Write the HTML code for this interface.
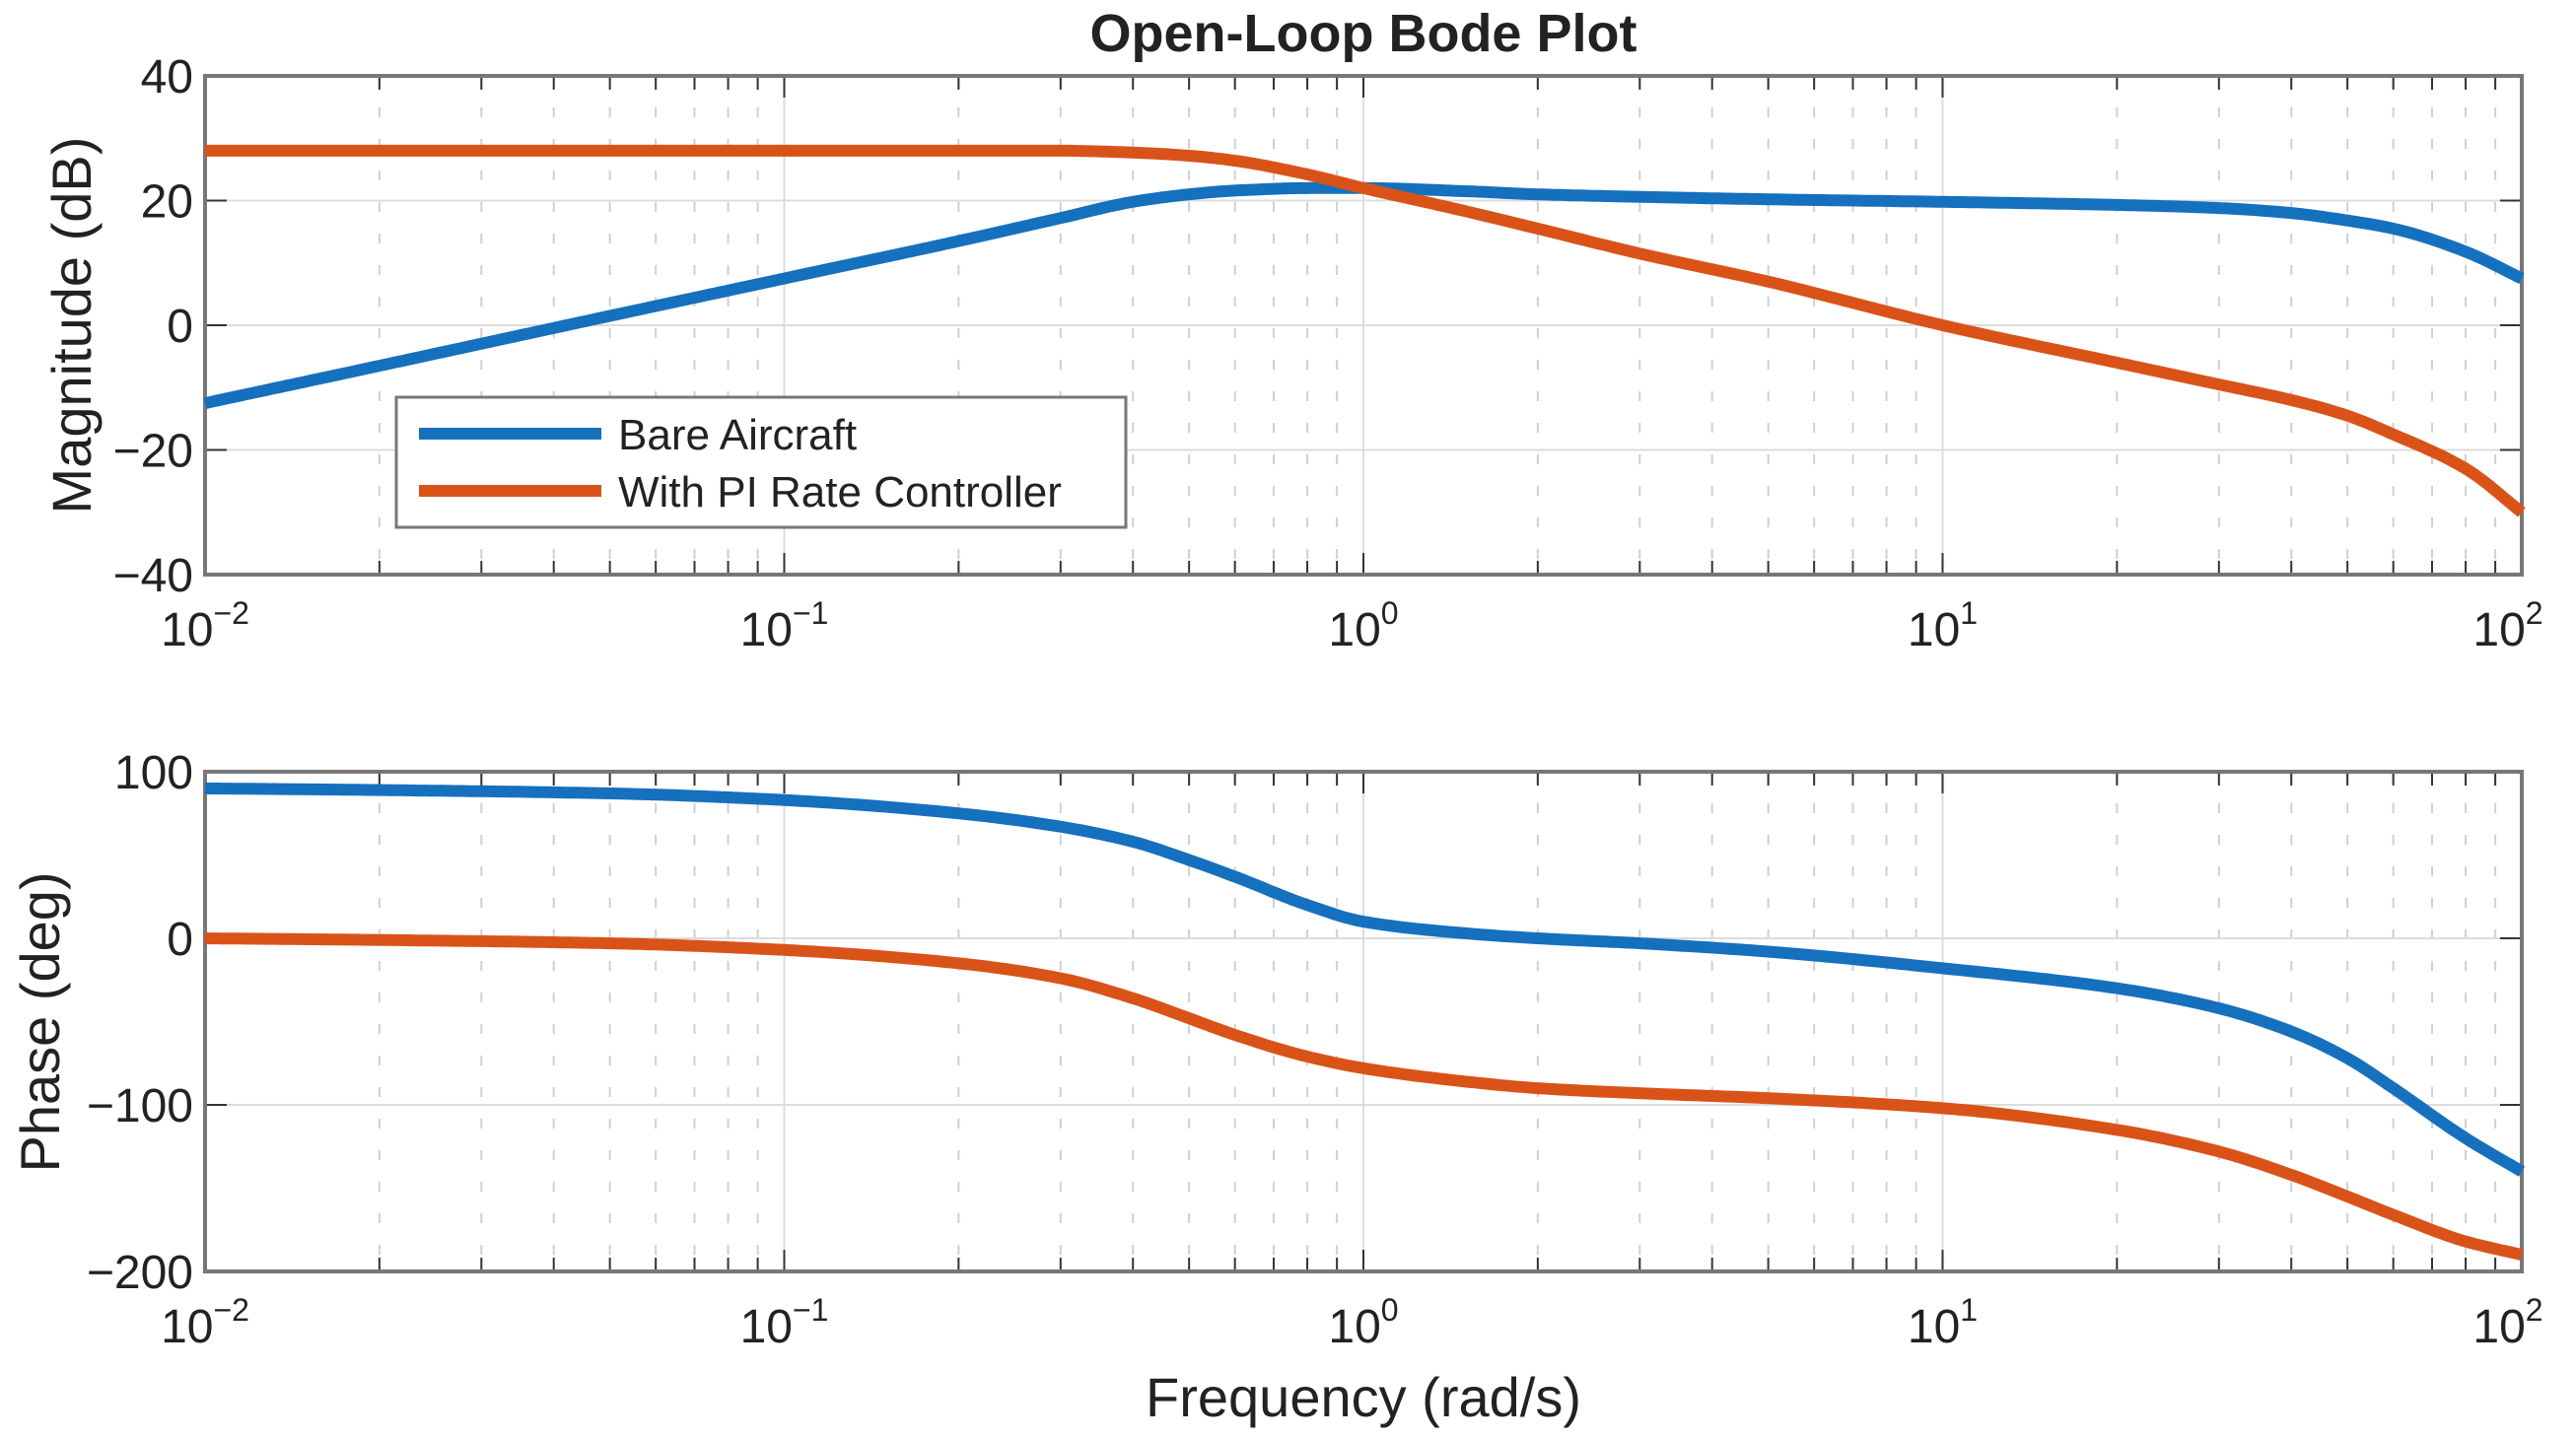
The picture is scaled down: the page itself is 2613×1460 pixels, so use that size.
<!DOCTYPE html>
<html><head><meta charset="utf-8"><style>
body{margin:0;background:#fff}
svg{display:block;font-family:"Liberation Sans",sans-serif}
</style></head><body>
<svg id="chart" width="2613" height="1460" viewBox="0 0 2613 1460">
<text x="1383" y="52" text-anchor="middle" font-size="54" font-weight="bold" fill="#222">Open-Loop Bode Plot</text>
<g id="mag"></g>
<g id="ph"></g>
<text transform="translate(92,330) rotate(-90)" text-anchor="middle" font-size="56" fill="#222">Magnitude (dB)</text>
<text transform="translate(60,1037) rotate(-90)" text-anchor="middle" font-size="56" fill="#222">Phase (deg)</text>
<text x="1383" y="1437" text-anchor="middle" font-size="56" fill="#222">Frequency (rad/s)</text>
<g id="legend">
<rect x="402" y="403" width="740" height="132" fill="#fff" stroke="#777" stroke-width="3"/>
<line x1="425" y1="440" x2="610" y2="440" stroke="#1570be" stroke-width="12"/>
<text x="627" y="456" font-size="44" fill="#222">Bare Aircraft</text>
<line x1="425" y1="498" x2="610" y2="498" stroke="#d95319" stroke-width="12"/>
<text x="627" y="514" font-size="44" fill="#222">With PI Rate Controller</text>
</g>
</svg>
<script>
const freqs=[0.01,0.02,0.05,0.1,0.2,0.3,0.4,0.5,0.6,0.8,1,1.5,2,3,5,10,20,30,40,50,60,80,100];
const magBare=[-12.5,-6.5,1.5,7.5,13.5,17.2,19.8,21,21.6,22,22,21.5,21,20.6,20.2,19.8,19.3,18.8,18,16.8,15.5,11.8,7.5];
const magPI=[28,28,28,28,28,28,27.7,27.2,26.4,24.2,22,18.3,15.5,11.5,7,0,-6,-9.5,-12,-14.5,-17.5,-23,-30];
const phBare=[90,89,87,83,75,67,58,47,37,20,10,3,0,-3,-8,-18,-30,-42,-56,-72,-90,-120,-140];
const phPI=[0,-1,-3,-7,-15,-24,-36,-48,-58,-71,-78,-86,-90,-93,-96,-102,-115,-128,-142,-155,-166,-182,-190];
const yTicksMag=[-40,-20,0,20,40];
const yTicksPh=[-200,-100,0,100];
const decades=[-2,-1,0,1,2];
const NS="http://www.w3.org/2000/svg";
const X0=208,X1=2558;
function xs(f){return X0+(Math.log10(f)+2)/4*(X1-X0);}
function mk(p,tag,a){const e=document.createElementNS(NS,tag);for(const k in a)e.setAttribute(k,a[k]);p.appendChild(e);return e;}
function monotone(xv,yv){const n=xv.length,d=[],m=[];for(let i=0;i<n-1;i++)d.push((yv[i+1]-yv[i])/(xv[i+1]-xv[i]));
 m[0]=d[0];m[n-1]=d[n-2];for(let i=1;i<n-1;i++){if(d[i-1]*d[i]<=0)m[i]=0;else{const w1=2*(xv[i+1]-xv[i])+(xv[i]-xv[i-1]),w2=(xv[i+1]-xv[i])+2*(xv[i]-xv[i-1]);m[i]=(w1+w2)/(w1/d[i-1]+w2/d[i]);}}
 return x=>{let i=0;while(i<n-2&&x>xv[i+1])i++;const h=xv[i+1]-xv[i],t=(x-xv[i])/h,t2=t*t,t3=t2*t;
  return (2*t3-3*t2+1)*yv[i]+(t3-2*t2+t)*h*m[i]+(-2*t3+3*t2)*yv[i+1]+(t3-t2)*h*m[i+1];};}
function path(series,ys){const lx=freqs.map(f=>Math.log10(f));const fn=monotone(lx,series);let d="";
 for(let k=0;k<=400;k++){const l=-2+4*k/400;d+=(k?"L":"M")+xs(Math.pow(10,l)).toFixed(1)+","+ys(fn(l)).toFixed(1);}return d;}
function panel(g,Y0,Y1,ymin,ymax,ticks,s1,s2,nm){
 const ys=v=>Y1-(v-ymin)/(ymax-ymin)*(Y1-Y0);
 for(let d=-2;d<2;d++)for(let m=2;m<=9;m++){const x=xs(m*Math.pow(10,d));
  const l=mk(g,"line",{x1:x,x2:x,y1:Y0,y2:Y1,stroke:"#d0d0d0","stroke-width":2,"stroke-dasharray":"10,22"});
  
  mk(g,"line",{x1:x,x2:x,y1:Y0,y2:Y0+14,stroke:"#333","stroke-width":2});
  mk(g,"line",{x1:x,x2:x,y1:Y1,y2:Y1-14,stroke:"#333","stroke-width":2});}
 decades.forEach(d=>{const x=xs(Math.pow(10,d));
  const l=mk(g,"line",{x1:x,x2:x,y1:Y0,y2:Y1,stroke:"#dcdcdc","stroke-width":2});
  
  mk(g,"line",{x1:x,x2:x,y1:Y0,y2:Y0+22,stroke:"#333","stroke-width":2});
  mk(g,"line",{x1:x,x2:x,y1:Y1,y2:Y1-22,stroke:"#333","stroke-width":2});
  const t=mk(g,"text",{x:x+(d===2?-14:0),y:Y1+72,"text-anchor":"middle","font-size":48,fill:"#222"});
  
  t.textContent="10";const s=mk(t,"tspan",{dy:-22,"font-size":32});s.textContent=String(d).replace("-","\u2212");});
 ticks.forEach(v=>{const y=ys(v);
  mk(g,"line",{x1:X0,x2:X1,y1:y,y2:y,stroke:"#dcdcdc","stroke-width":2});
  mk(g,"line",{x1:X0,x2:X0+22,y1:y,y2:y,stroke:"#333","stroke-width":2});
  mk(g,"line",{x1:X1,x2:X1-22,y1:y,y2:y,stroke:"#333","stroke-width":2});
  const t=mk(g,"text",{x:X0-12,y:y+17,"text-anchor":"end","font-size":48,fill:"#222"});
  
  t.textContent=String(v).replace("-","\u2212");});
 const f=mk(g,"rect",{x:X0,y:Y0,width:X1-X0,height:Y1-Y0,fill:"none",stroke:"#777","stroke-width":4});
 
 const a=mk(g,"path",{d:path(s1,ys),fill:"none",stroke:"#1570be","stroke-width":12,"stroke-linejoin":"round"});
 
 const b=mk(g,"path",{d:path(s2,ys),fill:"none",stroke:"#d95319","stroke-width":12,"stroke-linejoin":"round"});
 
}
panel(document.getElementById("mag"),77,583,-40,40,yTicksMag,magBare,magPI,"magnitude");
panel(document.getElementById("ph"),783,1290,-200,100,yTicksPh,phBare,phPI,"phase");
document.getElementById("chart").appendChild(document.getElementById("legend"));
</script>
</body></html>
